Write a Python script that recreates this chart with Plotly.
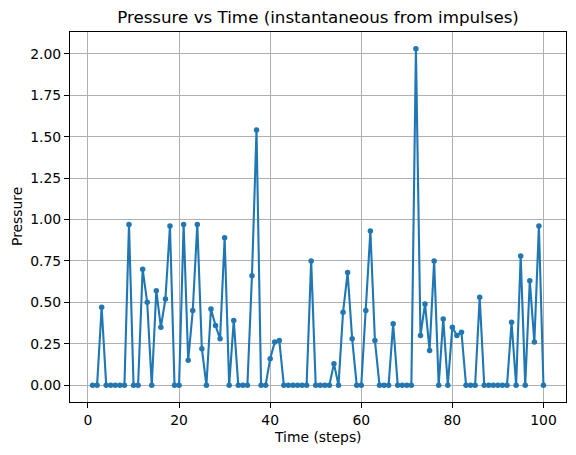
import plotly.graph_objects as go

steps = list(range(1, 101))
pressure = [
    0, 0, 0.47, 0, 0, 0, 0, 0, 0.97, 0,
    0, 0.70, 0.50, 0, 0.57, 0.35, 0.52, 0.96, 0, 0,
    0.97, 0.15, 0.45, 0.97, 0.22, 0, 0.46, 0.36, 0.28, 0.89,
    0, 0.39, 0, 0, 0, 0.66, 1.54, 0, 0, 0.16,
    0.26, 0.27, 0, 0, 0, 0, 0, 0, 0.75, 0,
    0, 0, 0, 0.13, 0, 0.44, 0.68, 0.28, 0, 0,
    0.45, 0.93, 0.27, 0, 0, 0, 0.37, 0, 0, 0,
    0, 2.03, 0.30, 0.49, 0.21, 0.75, 0, 0.40, 0, 0.35,
    0.30, 0.32, 0, 0, 0, 0.53, 0, 0, 0, 0,
    0, 0, 0.38, 0, 0.78, 0, 0.63, 0.26, 0.96, 0,
]
x_ticks = [0, 20, 40, 60, 80, 100]
y_ticks = [0, 0.25, 0.5, 0.75, 1.0, 1.25, 1.5, 1.75, 2.0]

color = "#1f77b4"
font = "DejaVu Sans"

fig = go.Figure()
fig.add_trace(go.Scatter(
    x=steps, y=pressure, mode="lines+markers",
    line=dict(color=color, width=2.1),
    marker=dict(color=color, size=5.5),
    showlegend=False,
))

axis_common = dict(
    showgrid=True, gridcolor="#b0b0b0", gridwidth=1.1,
    showline=True, linecolor="black", linewidth=1.1, mirror=True,
    ticks="outside", ticklen=5, tickwidth=1.1, tickcolor="black",
    tickfont=dict(family=font, size=13.9, color="black"),
    zeroline=False, automargin=False,
)

ymax = max(pressure)
ymin = min(pressure)
ypad = (ymax - ymin) * 0.05
xpad = (max(steps) - min(steps)) * 0.05

L, R, T, B = 70, 10, 32, 53
W, H = 576, 455

fig.update_layout(
    width=W, height=H,
    margin=dict(l=L, r=R, t=T, b=B, autoexpand=False),
    paper_bgcolor="white", plot_bgcolor="white",
    font=dict(family=font, color="black"),
    title=dict(text="Pressure vs Time (instantaneous from impulses)",
               x=(L + W - R) / 2 / W, xanchor="center",
               y=1 - 17 / H, yanchor="middle", yref="container",
               font=dict(family=font, size=16.7, color="black")),
    xaxis=dict(axis_common, range=[min(steps) - xpad, max(steps) + xpad],
               tickvals=x_ticks),
    yaxis=dict(axis_common, range=[ymin - ypad, ymax + ypad],
               tickvals=y_ticks, tickformat=".2f"),
    annotations=[
        dict(text="Time (steps)", xref="paper", yref="paper",
             x=0.5, y=-(437 - (H - B)) / (H - T - B),
             xanchor="center", yanchor="middle", showarrow=False,
             font=dict(family=font, size=13.9, color="black")),
        dict(text="Pressure", xref="paper", yref="paper",
             x=-(L - 17) / (W - L - R), y=0.5, textangle=-90,
             xanchor="center", yanchor="middle", showarrow=False,
             font=dict(family=font, size=13.9, color="black")),
    ],
)

fig.write_html("out.html",
               config={"displayModeBar": False},
               post_script="document.body.style.margin='0';document.body.style.padding='0';")
